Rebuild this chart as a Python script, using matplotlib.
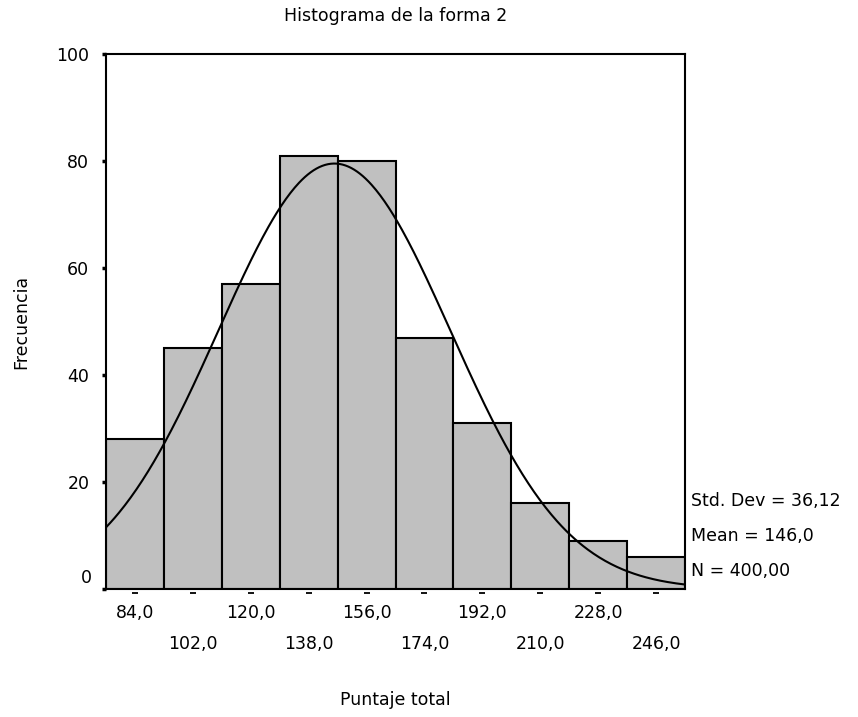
import numpy as np
import matplotlib
matplotlib.use("Agg")
import matplotlib.pyplot as plt
from matplotlib.transforms import ScaledTranslation

plt.rcParams['font.family'] = ['DejaVu Sans']

# Data
bin_centers = [84, 102, 120, 138, 156, 174, 192, 210, 228, 246]
frequencies = [28, 45, 57, 81, 80, 47, 31, 16, 9, 6]
bin_width = 18
row1_ticks = [84, 120, 156, 192, 228]
row2_ticks = [102, 138, 174, 210, 246]
y_ticks = [0, 20, 40, 60, 80, 100]
std_dev = 36.12
mean = 146.0
n_total = 400

title = "Histograma de la forma 2"
xlabel = "Puntaje total"
ylabel = "Frecuencia"
FS = 12.5

fig = plt.figure(figsize=(8.58, 7.17), dpi=100)
ax = fig.add_axes([106/858, 1 - 589/717, (685-106)/858, (589-54)/717])

ax.bar(bin_centers, frequencies, width=bin_width, color='#c0c0c0',
       edgecolor='black', linewidth=1.5, zorder=2)

xmin = bin_centers[0] - bin_width/2
xmax = bin_centers[-1] + bin_width/2
xs = np.linspace(xmin, xmax, 400)
ys = n_total * bin_width / (std_dev*np.sqrt(2*np.pi)) * np.exp(-0.5*((xs-mean)/std_dev)**2)
ax.plot(xs, ys, color='black', lw=1.5, zorder=3)

ax.set_xlim(xmin, xmax)
ax.set_ylim(0, 100)

for s in ax.spines.values():
    s.set_linewidth(1.5)
    s.set_zorder(4)

# y ticks
ax.set_yticks(y_ticks)
ax.set_yticklabels([str(v) if v != 0 else '' for v in y_ticks])
ax.tick_params(axis='y', direction='out', length=3, width=2.5, pad=9, labelsize=FS)
off = ScaledTranslation(-14/100, 11/100, fig.dpi_scale_trans)
ax.text(0, 0, '0', transform=ax.get_yaxis_transform() + off, ha='right', va='center', fontsize=FS)

# x ticks: staggered labels
ax.set_xticks(row1_ticks)
ax.set_xticklabels([f"{v},0" for v in row1_ticks])
ax.set_xticks(row2_ticks, minor=True)
ax.set_xticklabels([f"{v},0" for v in row2_ticks], minor=True)
ax.tick_params(axis='x', which='major', length=0, pad=11, labelsize=FS)
ax.tick_params(axis='x', which='minor', length=0, pad=33, labelsize=FS)

dash_off = ScaledTranslation(0, -4/100, fig.dpi_scale_trans)
ax.plot(bin_centers, [0]*len(bin_centers), ls='none', marker='_', ms=5, mew=1.3,
        color='black', transform=ax.transData + dash_off, clip_on=False, zorder=5)

fig.text(395.5/858, 1 - 16/717, title, ha='center', va='center', fontsize=FS)
fig.text(395.5/858, 1 - 700/717, xlabel, ha='center', va='center', fontsize=FS)
fig.text(21/858, 1 - 322/717, ylabel, ha='center', va='center', rotation=90, fontsize=FS)

stats = ["Std. Dev = " + f"{std_dev:.2f}".replace('.', ','),
         "Mean = " + f"{mean:.1f}".replace('.', ','),
         "N = " + f"{n_total:.2f}".replace('.', ',')]
for txt, yy in zip(stats, [501, 536, 571]):
    fig.text(691/858, 1 - yy/717, txt, ha='left', va='center', fontsize=FS)

fig.savefig("out.png", dpi=100)
